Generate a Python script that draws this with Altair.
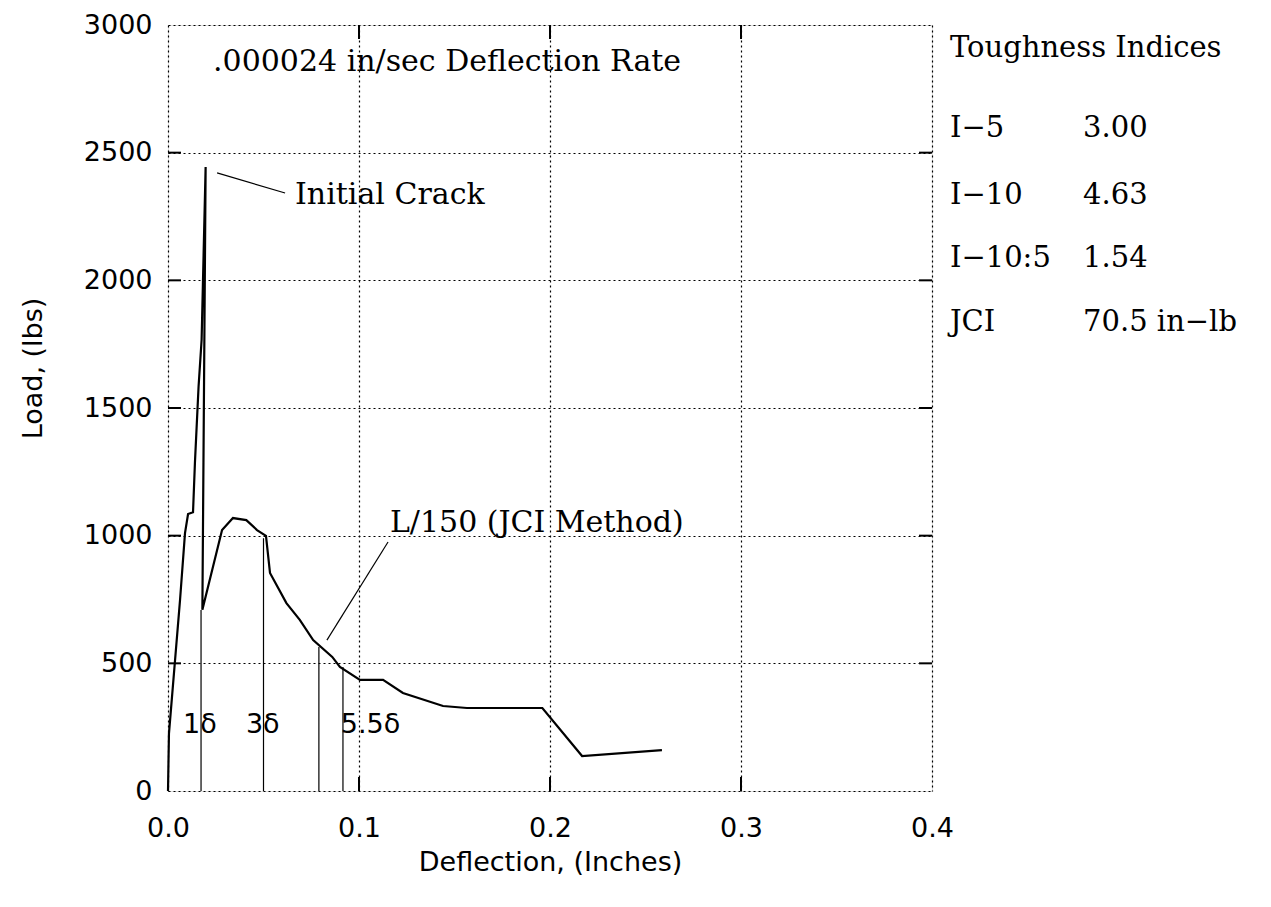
import altair as alt
import pandas as pd

# Load–deflection curve
deflection = [0.0, 0.0005, 0.0063, 0.0089, 0.0105, 0.0131, 0.0141, 0.0160, 0.0176, 0.0197,
              0.0180, 0.0283, 0.0340, 0.0410, 0.0466, 0.0513, 0.0534, 0.0620, 0.0690, 0.0760,
              0.0860, 0.0900, 0.1005, 0.1126, 0.1230, 0.1440, 0.1565, 0.1960, 0.2168, 0.2586]
load = [0, 225, 748, 1010, 1085, 1092, 1285, 1583, 1767, 2444,
        710, 1022, 1069, 1061, 1022, 999, 854, 736, 670, 591,
        525, 486, 435, 435, 384, 333, 325, 325, 137, 160]

# Vertical marker lines (1δ, 3δ, L/150, 5.5δ)
marker_x = [0.0173, 0.0500, 0.0790, 0.0916]
marker_top = [709, 990, 564, 486]

# Delta labels
delta_labels = ["1δ", "3δ", "5.5δ"]
delta_x = [0.0079, 0.0408, 0.0905]
delta_y = [258, 258, 258]

# Annotations
note_texts = [".000024 in/sec Deflection Rate", "Initial Crack", "L/150 (JCI Method)"]
note_x = [0.0236, 0.0665, 0.1162]
note_y = [2855, 2334, 1050]

# Leader lines
lead_x = [0.0257, 0.0832]
lead_y = [2421, 591]
lead_x2 = [0.0613, 0.1152]
lead_y2 = [2342, 975]

# Toughness indices table
idx_names = ["I−5", "I−10", "I−10:5", "JCI"]
idx_values = ["3.00", "4.63", "1.54", "70.5 in−lb"]
idx_y = [2597, 2335, 2088, 1837]
table_title = "Toughness Indices"

x_ticks = [0.0, 0.1, 0.2, 0.3, 0.4]
y_ticks = [0, 500, 1000, 1500, 2000, 2500, 3000]

SERIF = "DejaVu Serif"
SANS = "DejaVu Sans"

curve_df = pd.DataFrame({"x": deflection, "y": load, "i": list(range(len(load)))})
mark_df = pd.DataFrame({"x": marker_x, "y": [0] * len(marker_x), "y2": marker_top})
delta_df = pd.DataFrame({"t": delta_labels, "x": delta_x, "y": delta_y})
note_df = pd.DataFrame({"t": note_texts, "x": note_x, "y": note_y})
lead_df = pd.DataFrame({"x": lead_x, "y": lead_y, "x2": lead_x2, "y2": lead_y2})

tab_rows = [table_title] + idx_names + idx_values
tab_x = [0.4094] + [0.4094] * len(idx_names) + [0.4791] * len(idx_values)
tab_y = [2910] + idx_y + idx_y
tab_df = pd.DataFrame({"t": tab_rows, "x": tab_x, "y": tab_y})

inner_y = [v for v in y_ticks if 0 < v < 3000]
inner_x = [v for v in x_ticks if 0 < v < 0.4]
ytick_df = pd.DataFrame({
    "y": inner_y * 2,
    "x": [0.0] * len(inner_y) + [0.3932] * len(inner_y),
    "x2": [0.0068] * len(inner_y) + [0.4] * len(inner_y),
})
xtick_df = pd.DataFrame({
    "x": inner_x * 2,
    "y": [0] * len(inner_x) + [2945] * len(inner_x),
    "y2": [55] * len(inner_x) + [3000] * len(inner_x),
})

xs = alt.Scale(domain=[0, 0.4], nice=False, zero=False)
ys = alt.Scale(domain=[0, 3000], nice=False, zero=False)

xaxis = alt.Axis(values=x_ticks, format=".1f", title="Deflection, (Inches)",
                 grid=True, gridDash=[2, 3], gridColor="black", gridWidth=1.2,
                 ticks=False, tickSize=0, domain=False,
                 labelFont=SANS, labelFontSize=27, labelColor="black",
                 labelPadding=24, labelFlush=False,
                 titleFont=SANS, titleFontSize=27, titleFontWeight="normal",
                 titleColor="black", titleY=71, titleBaseline="middle")
yaxis = alt.Axis(values=y_ticks, format="d", title="Load, (lbs)",
                 grid=True, gridDash=[2, 3], gridColor="black", gridWidth=1.2,
                 ticks=False, tickSize=0, domain=False,
                 labelFont=SANS, labelFontSize=27, labelColor="black",
                 labelPadding=16, labelFlush=False,
                 titleFont=SANS, titleFontSize=27, titleFontWeight="normal",
                 titleColor="black", titleX=-135, titleY=343,
                 titleAlign="center", titleBaseline="middle", titleAngle=270)

base = alt.Chart(curve_df)

curve = base.mark_line(color="black", strokeWidth=2.2).encode(
    x=alt.X("x:Q", scale=xs, axis=xaxis),
    y=alt.Y("y:Q", scale=ys, axis=yaxis),
    order="i:Q",
)

markers = alt.Chart(mark_df).mark_rule(color="black", strokeWidth=1.2).encode(
    x=alt.X("x:Q", scale=xs), y=alt.Y("y:Q", scale=ys), y2="y2:Q")

leaders = alt.Chart(lead_df).mark_rule(color="black", strokeWidth=1.2).encode(
    x=alt.X("x:Q", scale=xs), y=alt.Y("y:Q", scale=ys), x2="x2:Q", y2="y2:Q")

yt = alt.Chart(ytick_df).mark_rule(color="black", strokeWidth=2).encode(
    x=alt.X("x:Q", scale=xs), x2="x2:Q", y=alt.Y("y:Q", scale=ys))
xt = alt.Chart(xtick_df).mark_rule(color="black", strokeWidth=2).encode(
    x=alt.X("x:Q", scale=xs), y=alt.Y("y:Q", scale=ys), y2="y2:Q")

deltas = alt.Chart(delta_df).mark_text(font=SANS, fontSize=27, align="left",
                                       baseline="middle", color="black").encode(
    x=alt.X("x:Q", scale=xs), y=alt.Y("y:Q", scale=ys), text="t:N")

notes = alt.Chart(note_df).mark_text(font=SERIF, fontSize=30, align="left",
                                     baseline="middle", color="black").encode(
    x=alt.X("x:Q", scale=xs), y=alt.Y("y:Q", scale=ys), text="t:N")

table = alt.Chart(tab_df).mark_text(font=SERIF, fontSize=29, align="left",
                                    baseline="middle", color="black").encode(
    x=alt.X("x:Q", scale=xs), y=alt.Y("y:Q", scale=ys), text="t:N")

chart = alt.layer(curve, markers, leaders, yt, xt, deltas, notes, table).properties(
    width=764, height=766,
    autosize=alt.AutoSizeParams(type="none"),
    padding={"left": 160, "top": 17, "right": 320, "bottom": 100},
).configure_view(stroke="black", strokeWidth=2).configure(background="white")

chart.save("out.html", embed_options={"renderer": "svg", "actions": False})
